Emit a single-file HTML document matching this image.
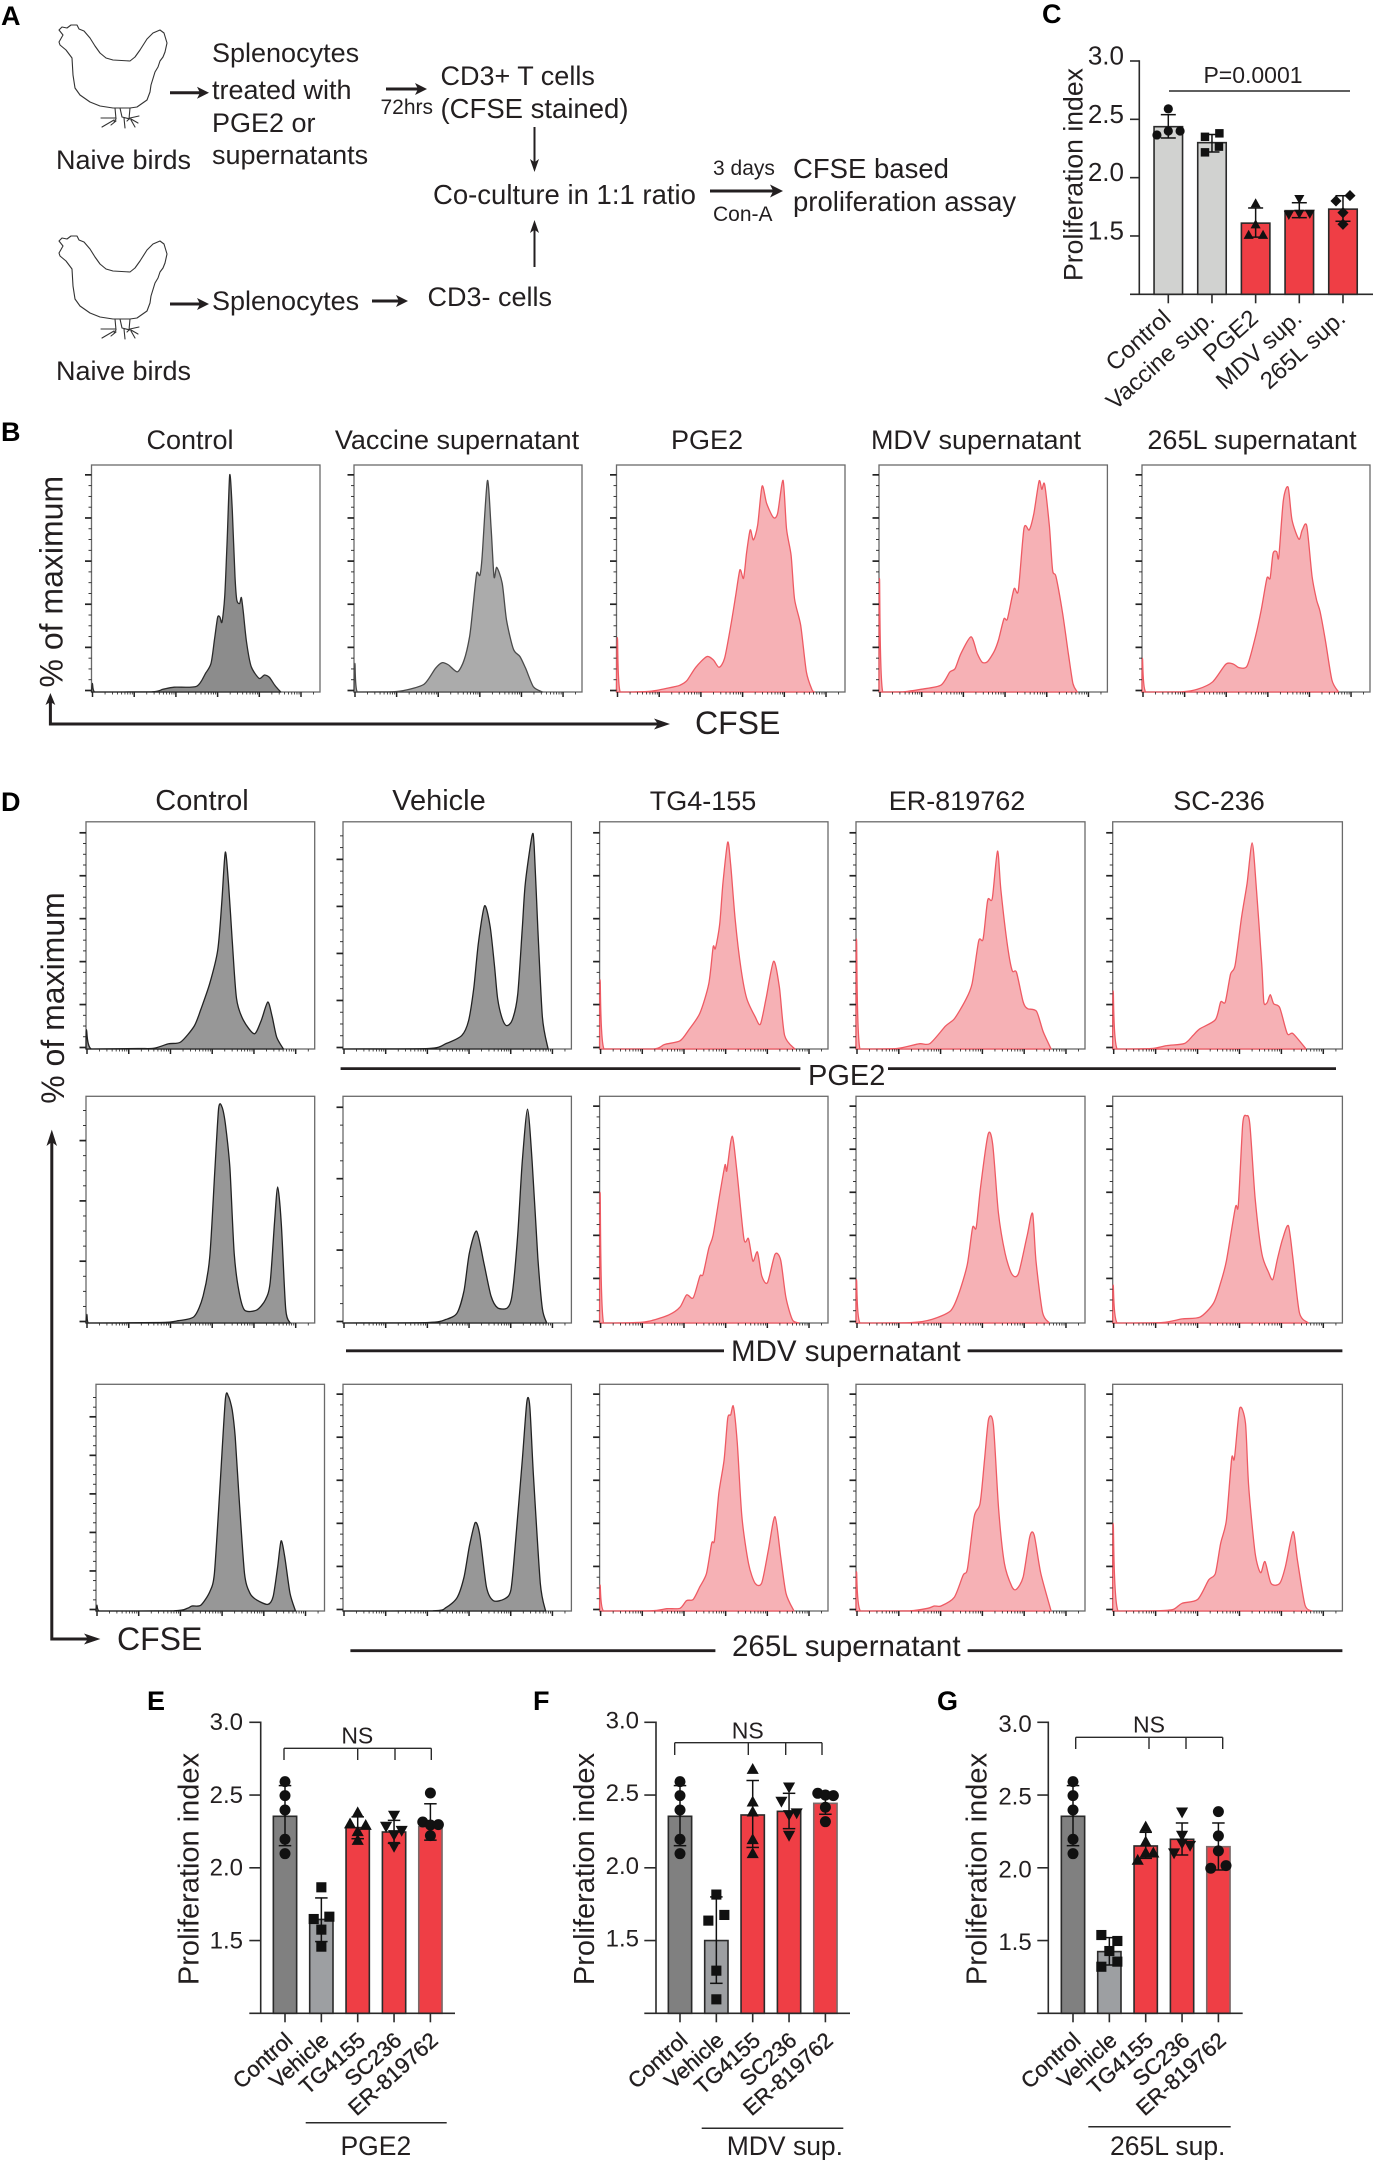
<!DOCTYPE html>
<html lang="en">
<head>
<meta charset="utf-8">
<title>Proliferation figure</title>
<style>
html,body{margin:0;padding:0;background:#fff}
svg{display:block}
text{font-family:"Liberation Sans",Arial,sans-serif;fill:#231f20}
.h{font-size:27px}
.h2{font-size:27.5px}
.s{font-size:21px}
.L{font-size:27px;font-weight:bold;fill:#000}
.t29{font-size:29px}
.t295{font-size:29.5px}
.t27{font-size:27px}
.t32{font-size:32px}
</style>
</head>
<body>
<svg id="figure" xmlns="http://www.w3.org/2000/svg" width="1373" height="2160" viewBox="0 0 1373 2160">
<rect width="1373" height="2160" fill="#fff"/>
<defs>
<g id="chicken" fill="none" stroke="#333" stroke-width="1.1" stroke-linejoin="round" stroke-linecap="round">
<path d="M59 42 L63 35 L59 30 L62 27 L67 28 L71 25 L77 25 L79 29 L84 31 L90 38 L95 46 L100 53 L106 58 L113 60 L130 61 L135 57 L140 50 L147 39 L153 33 L160 30 L164 33 L167 43 L165 52 L163 57 L160 61 L158 67 L155 72 L151 85 L150 92 L147 100 L137 107 L130 108 L113 108 L100 106 L90 102 L80 95 L75 88 L73 75 L72 58 L66 50 L60 45 Z"/>
<path d="M115 108 L116 119 L114 122 M130 108 L129 119 L127 121 M120 108 L122 117 L130 119 M116 118 L101 118 M114 120 L102 127 M116 121 L111 125 M124 118 L125 128 M130 118 L139 116 M131 120 L135 127 M131 119 L138 123"/>
</g>
</defs>

<g>
<text class="L" x="1" y="25">A</text>
<use href="#chicken"/>
<use href="#chicken" y="211"/>
<text class="h" x="212" y="62">Splenocytes</text>
<text class="h" x="212" y="99">treated with</text>
<text class="h" x="212" y="132">PGE2 or</text>
<text class="h" x="212" y="164">supernatants</text>
<text class="h" x="56" y="169">Naive birds</text>
<text class="h" x="440.5" y="85">CD3+ T cells</text>
<text class="s" x="380.5" y="114">72hrs</text>
<text class="h2" x="440.5" y="118">(CFSE stained)</text>
<text class="h2" x="433" y="204">Co-culture in 1:1 ratio</text>
<text class="s" x="713" y="175">3 days</text>
<text class="s" x="713" y="221">Con-A</text>
<text class="h2" x="793" y="178">CFSE based</text>
<text class="h2" x="793" y="211">proliferation assay</text>
<text class="h" x="212" y="310">Splenocytes</text>
<text class="h" x="427.5" y="306">CD3- cells</text>
<text class="h" x="56" y="380">Naive birds</text>
</g>

<g>
<text class="L" x="1" y="441">B</text>
<text class="t27" x="190" y="449" text-anchor="middle">Control</text>
<text class="t27" x="457" y="449" text-anchor="middle">Vaccine supernatant</text>
<text class="t27" x="707" y="449" text-anchor="middle">PGE2</text>
<text class="t27" x="976" y="449" text-anchor="middle">MDV supernatant</text>
<text class="t27" x="1252" y="449" text-anchor="middle">265L supernatant</text>
<text class="t32" transform="translate(62.5 581.7) rotate(-90)" text-anchor="middle">% of maximum</text>
<text class="t32" x="695" y="734">CFSE</text>
</g>

<g>
<text class="L" x="1" y="811">D</text>
<text class="t29" x="202" y="810" text-anchor="middle">Control</text>
<text class="t29" x="439" y="810" text-anchor="middle">Vehicle</text>
<text class="t27" x="703" y="810" text-anchor="middle">TG4-155</text>
<text class="t27" x="957" y="810" text-anchor="middle">ER-819762</text>
<text class="t27" x="1219" y="810" text-anchor="middle">SC-236</text>
<text class="t32" transform="translate(64 998) rotate(-90)" text-anchor="middle">% of maximum</text>
<text class="t32" x="117" y="1650">CFSE</text>
<text class="t29" x="808" y="1085">PGE2</text>
<text class="t295" x="731" y="1361">MDV supernatant</text>
<text class="t295" x="732" y="1656">265L supernatant</text>
<g stroke="#231f20" stroke-width="2.8">
<line x1="340.6" x2="800.4" y1="1068.6" y2="1068.6"/>
<line x1="888" x2="1336" y1="1068.6" y2="1068.6"/>
<line x1="346" x2="724" y1="1350.8" y2="1350.8"/>
<line x1="967.6" x2="1342.4" y1="1350.8" y2="1350.8"/>
<line x1="350.4" x2="715.4" y1="1650.7" y2="1650.7"/>
<line x1="967.6" x2="1342.4" y1="1650.7" y2="1650.7"/>
</g>
</g>

<g>
<text class="L" x="1042" y="23">C</text>
<text class="L" x="147" y="1710">E</text>
<text class="L" x="533" y="1710">F</text>
<text class="L" x="937" y="1710">G</text>
</g>
</svg>

<script>
// ---------- Histogram values: [CFSE axis %, cell count % of plot height] ----------
const histBControl = [[0,0],[0.4,3.8],[1.4,0],[26.4,0.1],[31.3,1.2],[36.2,2.1],[46,2.5],[49.9,8.2],[52.3,12.6],[53.8,22.9],[55.2,32.8],[56.2,33],[57.1,30.8],[58.3,42],[59.3,65],[60.5,95.6],[61.6,80],[62.8,50.8],[63.6,40.5],[64.8,39],[65.6,41.6],[66.5,34.5],[67.9,21.5],[69.9,11.2],[73.4,6],[75.7,7.5],[77.9,6.4],[80.2,3],[82.8,0]];
const histBVaccine = [[0,0],[0.4,12.6],[1.4,0],[17,0.1],[22.9,0.9],[30.8,3.5],[35.7,10.4],[38.6,12.9],[41.5,11.9],[45.4,8.9],[48.3,14.1],[50.7,24.4],[52.2,37.6],[53.8,52.3],[55.2,51.4],[56.2,59.5],[58.5,93.1],[60.1,72.9],[61.4,50.8],[62.6,54.9],[65,47.9],[66.9,31.7],[69.9,18.9],[72.8,15.6],[75.3,10.4],[78.7,2.3],[82.6,0]];
const histBPge2 = [[0,0],[0.4,24],[1.6,0],[15.4,0.4],[25.2,2.3],[27.8,3],[30.8,5],[34.7,10.9],[39.5,15.6],[42.4,14.1],[44.9,10.9],[47.3,14.9],[50.2,30.3],[52.1,42],[54,53.8],[55.6,50.1],[56.9,61.1],[58.5,71.4],[59.9,67],[61.8,73.6],[63.7,90.7],[65.7,83.1],[68.6,76.9],[70.5,78.7],[72.9,93.2],[74.4,72],[76.4,60.2],[77.9,41.1],[80.6,29.4],[83.1,8.8],[85.6,0.9],[86.6,0]];
const histBMdv = [[0,0],[0.2,50],[1.6,0],[10.7,0.1],[18.4,1.2],[27.1,3],[31,8.8],[33.3,10.3],[35.9,17],[40.3,24.3],[43,17],[45.2,13.1],[47.5,13.4],[50.4,17.8],[52.3,22.9],[54.7,32.2],[56.2,32.2],[59.1,45.4],[61,44.7],[63.5,72.1],[65.8,71.4],[67.8,78.7],[70.1,92.9],[71.3,89.3],[72.5,91.5],[74.6,73.1],[76,53.7],[77.5,50.8],[80.4,34.7],[82.9,17],[84.9,3.8],[86.8,0]];
const histB265l = [[0,0],[0.2,14.8],[1.6,0],[17.6,0.1],[24.3,1.2],[31,4.5],[36.8,12.3],[40.1,12.3],[42.6,10.7],[46.1,11.5],[49.4,22.9],[52.3,36.1],[54.8,50.1],[56.2,50.1],[57.5,61.1],[59.1,61.8],[60,59.5],[62,84.6],[64.1,90.2],[65.8,75.8],[68.8,67.3],[70.3,71.4],[72.3,73.1],[74.6,50.8],[76.6,40.5],[78.1,35.4],[80.4,22.9],[83.3,5.3],[86.2,0]];

const histPge2Control = [[0,0],[0.2,8.5],[2.3,0],[22.8,0.2],[29.7,0.3],[36.1,2.3],[41.4,3.1],[47.3,10.1],[50.2,17.4],[54.1,28.8],[57.6,43.5],[59.4,64.7],[60.9,86.6],[62.3,72.9],[63.9,48.5],[65.8,22.3],[68.8,12.7],[73.6,6.7],[76.6,12.5],[79.5,20.7],[81.4,14.2],[83.4,5.2],[86.3,0]];
const histPge2Vehicle = [[0,0],[37.4,0.2],[45.2,2.4],[52,6],[55,12.5],[57.3,27.2],[59.3,46.7],[62,63],[64.4,54],[66.3,37],[67.7,22.3],[69.7,13.4],[71.6,10.3],[74.1,12.7],[76.5,24],[78.5,53.2],[79.8,72.8],[82.8,94],[83.7,89.1],[85.3,53.2],[87.3,14],[89.8,0]];
const histPge2Tg = [[0,0],[0.2,30.5],[1.9,0],[23.6,0],[28.4,2],[35.2,3.6],[39.1,8.5],[43.9,15.8],[47.8,28.8],[49.7,44.8],[50.7,44.3],[52.6,55],[54,72.9],[56.1,91],[57.4,81],[59.4,56.5],[61.9,35.3],[64.4,22.3],[68.1,14.2],[70.4,10.9],[72.9,22.3],[76.2,38.6],[78.7,27.2],[81,6],[85.5,0]];
const histPge2Er = [[0,0],[0.2,48.4],[1.7,0],[17.8,0.2],[27.5,2.3],[32.3,2.4],[39.1,10.1],[43,13.4],[47.8,21.5],[50.7,28.8],[53.6,47.6],[55.5,48.4],[57.5,65.5],[59.5,66.3],[61.8,87.1],[63.3,69.5],[66.2,45.1],[68.2,34.5],[70.1,33.7],[73,20.7],[74.9,17.8],[78.8,16.6],[81.7,7.7],[85.2,0]];
const histPge2Sc = [[0,0],[0.2,25.6],[1.9,0],[16.8,0.2],[23.5,1.5],[31.2,2.4],[35,6],[37.9,8.9],[44.7,12.9],[47,20.7],[49,20.7],[51.3,32.9],[53.3,36.9],[56.1,58.1],[58.5,72.9],[60.7,90.7],[62.4,72.9],[64.9,36.9],[65.8,20.7],[67.2,20.4],[68.6,23.9],[70.1,19.9],[72.7,18.2],[76,6.8],[78.5,6.8],[84.2,0]];

const histMdvControl = [[0,0],[0.4,3.8],[1,0],[32.6,0.2],[40.4,1],[47.3,2.9],[51.2,11.9],[54.1,29],[56.4,68.5],[58,94.6],[59.4,95.5],[60.9,88.1],[62.9,68.5],[64.8,30.7],[66.8,14.4],[69.3,5.7],[74.6,5.7],[78.5,10.3],[80.5,17.6],[82.4,43.7],[83.8,60],[85.4,43.7],[87.3,6.2],[89.3,0]];
const histMdvVehicle = [[0,0],[37.4,0.2],[45.2,1.6],[50,4.5],[53,14.4],[55.3,30.7],[58.5,40.5],[61.8,25.8],[64.8,11.9],[67.7,6.7],[72,6.7],[74.1,12.7],[76.5,38.8],[78.5,71.4],[80.8,94.3],[82.8,71.4],[85.3,29],[87.3,6.2],[89.2,0]];
const histMdvTg = [[0,0],[0.2,57.6],[1.7,0],[15.9,0.2],[22.6,1],[30.4,3.6],[35.2,7],[38.1,12.4],[41,11.1],[43.9,20.7],[45.3,21.5],[47.8,33],[49.7,38.7],[52.6,56.6],[54.9,69.7],[55.7,67.2],[58,82.4],[60,68.1],[63.2,37.2],[65.2,37.2],[67.1,27.3],[69.1,31.3],[71,20.7],[73.5,17.8],[76.8,30.3],[79.3,27.7],[81.6,11.1],[84.5,1.3],[87.4,0]];
const histMdvEr = [[0,0],[0.2,19.2],[1.7,0],[24.5,0.2],[33.2,1.6],[41.3,5.4],[44.8,12.7],[48.6,25.8],[50.9,42.1],[52.5,42.1],[54.4,60],[57.7,83.2],[59.7,78.8],[62.2,48.6],[65.1,30.7],[68,21.7],[70.9,21.7],[74.8,38.8],[77.1,48.3],[78.6,27.3],[81.5,4.6],[84.5,0]];
const histMdvSc = [[0,0],[0.2,16.8],[1.9,0],[21.6,0.2],[30.3,1.8],[38,2.6],[43.8,8.6],[46.7,16.8],[49.5,27.4],[53.4,51],[54.7,51.9],[56.6,87.8],[58.2,91.4],[59.7,87.8],[62,55.1],[64.9,30.7],[67.8,22.5],[69.7,19.2],[71.7,28.2],[74,37.2],[76.5,42.9],[78.4,29],[81.3,4.6],[85.2,0]];

const hist265Control = [[0,0],[0.4,2.6],[1.4,0],[34.2,0.1],[40,1.2],[42,2.2],[45.9,2.6],[49.8,8.5],[51.8,16.6],[54.1,51.9],[56.6,93.1],[58,94.6],[59.6,88.7],[60.9,76.9],[62.5,51.9],[65,16.6],[67.4,7.8],[70.3,4.9],[75.2,2.9],[77.5,6.3],[79.5,19.6],[81,30.9],[82.6,24],[84.9,7.8],[87.3,0]];
const hist265Vehicle = [[0,0],[39.3,0.1],[45.2,1.6],[50,6],[53,15.1],[55.3,28.4],[57.9,39],[59.9,33.5],[62.8,10.7],[65.8,4.6],[70.6,5.3],[73.5,9.3],[75.5,29.9],[78.5,66.6],[80.5,92.4],[81.8,90.2],[83.4,59.3],[86.4,12.2],[88.7,0]];
const hist265Tg = [[0,0],[0.2,11.5],[1.7,0],[22.6,0.1],[29.4,1],[35.2,1.2],[38.1,4.6],[41,5.1],[43.9,10.7],[46.8,16.6],[49.1,29.9],[50.3,31.3],[52.2,51.9],[54.5,66.6],[56.1,85],[57.4,86.5],[58.6,90.2],[60.3,74],[62.3,41.6],[65.2,21],[68.1,12.2],[71,12.5],[73.9,26.9],[76.8,41.6],[79.3,23.9],[81.6,7.8],[85.1,0]];
const hist265Er = [[0,0],[0.2,17.4],[1.9,0],[23.6,0.1],[31.3,1.2],[34.2,2.2],[37.1,2.2],[42.9,6],[46.8,15.9],[48.7,18.8],[51.6,41.6],[54.2,47.5],[56.1,66.6],[57.9,84.6],[60,82.1],[62.3,44.6],[64.8,21],[68.1,10.7],[70.1,9.6],[73,15.1],[75.9,32.8],[77.8,33.5],[80.7,16.6],[85.2,0]];
const hist265Sc = [[0,0],[0.2,38.7],[2.3,0],[19.6,0.1],[26.4,0.7],[30.2,3.4],[37,5.1],[41.8,13.7],[44.7,16.6],[47,29.9],[49.5,40.1],[51.8,67.3],[53,67.3],[55.3,89.4],[57.8,82.8],[59.2,54.9],[62,25.6],[64.4,16.9],[66.3,21.8],[68.9,12.2],[72.7,12.2],[75.2,19.6],[78.5,35],[80.4,22.5],[83.7,2.6],[86.7,0]];

// ---------- Bar chart values ----------
const barTickValues = [1.5, 2.0, 2.5, 3.0];
const barTickLabels = ['1.5', '2.0', '2.5', '3.0'];

const cCategories = ['Control', 'Vaccine sup.', 'PGE2', 'MDV sup.', '265L sup.'];
const cMeans = [2.437, 2.30, 1.61, 1.717, 1.73];
const cUpper = [2.54, 2.37, 1.74, 1.785, 1.845];
const cLower = [2.34, 2.22, 1.49, 1.657, 1.626];
const cPoints = [[2.59, 2.366, 2.40, 2.40], [2.35, 2.38, 2.266, 2.217], [1.78, 1.60, 1.51, 1.51], [1.817, 1.69, 1.68, 1.69], [1.846, 1.80, 1.70, 1.60]];

const treatmentCategories = ['Control', 'Vehicle', 'TG4155', 'SC236', 'ER-819762'];
const controlPoints = [2.592, 2.496, 2.397, 2.196, 2.097];

const eMeans = [2.354, 1.645, 2.276, 2.246, 2.283];
const eUpper = [2.565, 1.793, 2.35, 2.326, 2.44];
const eLower = [2.152, 1.493, 2.20, 2.168, 2.19];
const ePoints = [controlPoints, [1.866, 1.648, 1.664, 1.575, 1.458], [2.381, 2.304, 2.294, 2.251, 2.191], [2.359, 2.283, 2.255, 2.226, 2.145], [2.514, 2.315, 2.294, 2.297, 2.221]];

const fMeans = [2.354, 1.50, 2.363, 2.388, 2.443];
const fUpper = [2.565, 1.80, 2.60, 2.512, 2.52];
const fLower = [2.152, 1.206, 2.14, 2.269, 2.368];
const fPoints = [controlPoints, [1.816, 1.637, 1.676, 1.293, 1.096], [2.679, 2.455, 2.386, 2.196, 2.10], [2.553, 2.455, 2.375, 2.363, 2.221], [2.512, 2.50, 2.496, 2.416, 2.317]];

const gMeans = [2.354, 1.424, 2.15, 2.196, 2.145];
const gUpper = [2.565, 1.52, 2.244, 2.308, 2.308];
const gLower = [2.152, 1.332, 2.065, 2.088, 1.985];
const gPoints = [controlPoints, [1.538, 1.497, 1.428, 1.355, 1.32], [2.283, 2.18, 2.104, 2.104, 2.054], [2.381, 2.221, 2.168, 2.152, 2.10], [2.386, 2.219, 2.116, 1.997, 2.015]];

// Horizontal spread of points within a category, in band fractions (layout, not data)
const cSpread = [[0, -0.26, 0, 0.27], [-0.16, 0.17, 0.16, -0.16], [0, 0, -0.16, 0.17], [0, 0, -0.24, 0.24], [0.16, -0.16, 0, 0]];
const eSpread = [[0,0,0,0,0], [0,-0.21,0.22,0,0], [0,-0.21,0.22,0,0], [0,-0.22,0.21,0,0], [0,-0.21,0,0.22,0]];
const fSpread = [[0,0,0,0,0], [0,-0.22,0.22,0,0], [0,0,0,0,0], [0,-0.21,0.21,0,0], [-0.21,0,0.22,0,0]];
const gSpread = [[0,0,0,0,0], [-0.22,0.22,0,0.22,-0.22], [0,0,0,0.21,-0.22], [0,0,0,0.22,-0.22], [0,0,0,-0.21,0.21]];

// ---------- Drawing ----------
const NS = 'http://www.w3.org/2000/svg';
const figure = document.getElementById('figure');

function make(tag, attrs, parent) {
  const el = document.createElementNS(NS, tag);
  for (const k in attrs) el.setAttribute(k, attrs[k]);
  (parent || figure).appendChild(el);
  return el;
}

function drawArrow(x1, y1, x2, y2, width, headLen, headHalf, name) {
  const g = make('g', {});
  
  
  const a = Math.atan2(y2 - y1, x2 - x1);
  const cx = Math.cos(a), cy = Math.sin(a);
  make('line', { x1: x1, y1: y1, x2: x2 - cx * headLen * 0.6, y2: y2 - cy * headLen * 0.6, stroke: '#231f20', 'stroke-width': width }, g);
  const bx = x2 - cx * headLen, by = y2 - cy * headLen;
  const nx = x2 - cx * headLen * 0.75, ny = y2 - cy * headLen * 0.75;
  const pts = [[x2, y2], [bx - cy * headHalf, by + cx * headHalf], [nx, ny], [bx + cy * headHalf, by - cx * headHalf]];
  make('polygon', { points: pts.map(p => p.join(',')).join(' '), fill: '#231f20' }, g);
}

drawArrow(170, 92.7, 209, 92.7, 3, 12, 6, 'arrow-birds-to-splenocytes');
drawArrow(386, 89, 427, 89, 3, 12, 6, 'arrow-72hrs');
drawArrow(534.5, 127, 534.5, 172, 2, 13, 4.5, 'arrow-tcells-to-coculture');
drawArrow(710, 191, 783, 191, 3, 13, 6.5, 'arrow-3-days');
drawArrow(534.5, 267, 534.5, 220, 2, 13, 4.5, 'arrow-cd3-to-coculture');
drawArrow(170, 304, 209, 304, 3, 12, 6, 'arrow-birds-to-splenocytes-bottom');
drawArrow(372, 301, 408, 301, 3, 12, 6, 'arrow-splenocytes-to-cd3');

// Axis arrows of flow panels
const axisArrowsB = make('g', {});


make('path', { d: 'M50.4 700 V724 H662', fill: 'none', stroke: '#231f20', 'stroke-width': 3 }, axisArrowsB);
make('polygon', { points: '50.4,693 45.5,705 50.4,702 55.3,705', fill: '#231f20' }, axisArrowsB);
make('polygon', { points: '670,724 654,718.5 658,724 654,729.5', fill: '#231f20' }, axisArrowsB);
const axisArrowsD = make('g', {});


make('path', { d: 'M51.8 1137 V1639 H94', fill: 'none', stroke: '#231f20', 'stroke-width': 3 }, axisArrowsD);
make('polygon', { points: '51.8,1129.6 46.5,1146 51.8,1142 57,1146', fill: '#231f20' }, axisArrowsD);
make('polygon', { points: '100.4,1639 84,1633.5 88,1639 84,1644.5', fill: '#231f20' }, axisArrowsD);

const darkGrey = { fill: '#8c8c8c', stroke: '#2b2b2b' };
const midGrey = { fill: '#ababab', stroke: '#4a4a4a' };
const flowGrey = { fill: '#979797', stroke: '#222' };
const pink = { fill: '#f6b1b5', stroke: '#ee5a63' };

const flowX = [[86, 314.7], [343, 571.4], [599.6, 828], [856, 1085], [1112.7, 1342.4]];
const flowPanels = [
  { id: 'b-control', data: histBControl, x: [91.5, 320], y: [465, 692], step: 19, look: darkGrey },
  { id: 'b-vaccine', data: histBVaccine, x: [354, 582], y: [465, 692], step: 19, look: midGrey },
  { id: 'b-pge2', data: histBPge2, x: [616.5, 845], y: [465, 692], step: 19, look: pink },
  { id: 'b-mdv', data: histBMdv, x: [879, 1107.4], y: [465, 692], step: 19, look: pink },
  { id: 'b-265l', data: histB265l, x: [1142, 1370], y: [465, 692], step: 19, look: pink },
  { id: 'pge2-control', data: histPge2Control, x: flowX[0], y: [821.8, 1049], step: 18.9, look: flowGrey },
  { id: 'pge2-vehicle', data: histPge2Vehicle, x: flowX[1], y: [821.8, 1049], step: 20.7, look: flowGrey },
  { id: 'pge2-tg4-155', data: histPge2Tg, x: flowX[2], y: [821.8, 1049], step: 18.9, look: pink },
  { id: 'pge2-er-819762', data: histPge2Er, x: flowX[3], y: [821.8, 1049], step: 18.9, look: pink },
  { id: 'pge2-sc-236', data: histPge2Sc, x: flowX[4], y: [821.8, 1049], step: 18.9, look: pink },
  { id: 'mdv-control', data: histMdvControl, x: flowX[0], y: [1096.3, 1323], step: 26.6, look: flowGrey },
  { id: 'mdv-vehicle', data: histMdvVehicle, x: flowX[1], y: [1096.3, 1323], step: 31.5, look: flowGrey },
  { id: 'mdv-tg4-155', data: histMdvTg, x: flowX[2], y: [1096.3, 1323], step: 19, look: pink },
  { id: 'mdv-er-819762', data: histMdvEr, x: flowX[3], y: [1096.3, 1323], step: 19, look: pink },
  { id: 'mdv-sc-236', data: histMdvSc, x: flowX[4], y: [1096.3, 1323], step: 19, look: pink },
  { id: '265l-control', data: hist265Control, x: [96, 324.5], y: [1384.3, 1611], step: 17, look: flowGrey },
  { id: '265l-vehicle', data: hist265Vehicle, x: flowX[1], y: [1384.3, 1611], step: 19, look: flowGrey },
  { id: '265l-tg4-155', data: hist265Tg, x: flowX[2], y: [1384.3, 1611], step: 19, look: pink },
  { id: '265l-er-819762', data: hist265Er, x: flowX[3], y: [1384.3, 1611], step: 19, look: pink },
  { id: '265l-sc-236', data: hist265Sc, x: flowX[4], y: [1384.3, 1611], step: 19, look: pink }
];

// Smooth closed outline through the histogram points, never dipping under the baseline
function smoothPath(pts, bottom) {
  const k = 0.13;
  let d = 'M' + pts[0][0].toFixed(1) + ' ' + pts[0][1].toFixed(1);
  for (let i = 0; i < pts.length - 1; i++) {
    const p0 = pts[Math.max(i - 1, 0)], p1 = pts[i], p2 = pts[i + 1], p3 = pts[Math.min(i + 2, pts.length - 1)];
    const c1x = Math.min(p2[0], p1[0] + (p2[0] - p0[0]) * k);
    const c1y = Math.min(bottom, p1[1] + (p2[1] - p0[1]) * k);
    const c2x = Math.max(p1[0], p2[0] - (p3[0] - p1[0]) * k);
    const c2y = Math.min(bottom, p2[1] - (p3[1] - p1[1]) * k);
    d += ' C' + c1x.toFixed(1) + ' ' + c1y.toFixed(1) + ' ' + c2x.toFixed(1) + ' ' + c2y.toFixed(1) + ' ' + p2[0].toFixed(1) + ' ' + p2[1].toFixed(1);
  }
  return d + ' Z';
}

function drawFlowPanel(p) {
  const g = make('g', {});
  
  
  const x0 = p.x[0], x1 = p.x[1], top = p.y[0], bottom = p.y[1];
  const xScale = v => x0 + (v / 100) * (x1 - x0);
  const yScale = v => bottom - (v / 100) * (bottom - top);

  const frame = make('rect', { x: x0, y: top, width: x1 - x0, height: bottom - top, fill: '#fff', stroke: '#6a6a6a', 'stroke-width': 1.3 }, g);
  
  

  const pts = p.data.map(d => [xScale(d[0]), yScale(d[1])]);
  const area = make('path', { d: smoothPath(pts, bottom), fill: p.look.fill, stroke: p.look.stroke, 'stroke-width': 1.3, 'stroke-linejoin': 'round' }, g);
  
  

  // y ticks: each major step split in four
  const yTicks = make('g', { stroke: '#222' }, g);
  
  
  const base = yScale(0) - 1.5;
  const stepPx = (p.step / 100) * (bottom - top);
  for (let i = 0; base - i * stepPx / 4 >= top + 8; i++) {
    const y = base - i * stepPx / 4;
    const major = i % 4 === 0;
    make('line', { x1: x0 - (major ? 6.5 : 3), x2: x0, y1: y, y2: y, 'stroke-width': major ? 1.7 : 0.9 }, yTicks);
  }

  // x ticks: five log decades with log minors
  const xTicks = make('g', { stroke: '#222' }, g);
  
  
  const decade = 0.1825 * (x1 - x0);
  for (let d = 0; d < 6; d++) {
    const start = x0 + 1 + d * decade;
    make('line', { x1: start, x2: start, y1: bottom, y2: bottom + 5, 'stroke-width': 1.5 }, xTicks);
    for (let n = 2; n < 10; n++) {
      const x = start + Math.log10(n) * decade;
      if (x < x1) make('line', { x1: x, x2: x, y1: bottom, y2: bottom + 2.5, 'stroke-width': 0.8 }, xTicks);
    }
  }
}
flowPanels.forEach(drawFlowPanel);

function drawMarker(parent, shape, cx, cy, size) {
  let el;
  if (shape === 'circle') {
    el = make('circle', { cx: cx, cy: cy, r: size, fill: '#111' }, parent);
  } else if (shape === 'square') {
    el = make('rect', { x: cx - size * 0.92, y: cy - size * 0.92, width: size * 1.84, height: size * 1.84, fill: '#111' }, parent);
  } else {
    const s = size * 1.1;
    let pts;
    if (shape === 'up') pts = [[cx, cy - s], [cx + s, cy + s * 0.8], [cx - s, cy + s * 0.8]];
    if (shape === 'down') pts = [[cx, cy + s], [cx + s, cy - s * 0.8], [cx - s, cy - s * 0.8]];
    if (shape === 'diamond') pts = [[cx, cy - s * 1.1], [cx + s * 1.1, cy], [cx, cy + s * 1.1], [cx - s * 1.1, cy]];
    el = make('polygon', { points: pts.map(q => q.join(',')).join(' '), fill: '#111' }, parent);
  }
  
  
}

const ink = '#2a2a2a';

function drawBarChart(c) {
  const g = make('g', {});
  
  
  const unit = (c.bottom - c.top) / (3 - 1);
  const yScale = v => c.bottom - (v - 1) * unit;
  const xScale = i => c.first + i * c.band;

  c.means.forEach((m, i) => {
    const bar = make('rect', { x: xScale(i) - c.barW / 2, y: yScale(m), width: c.barW, height: c.bottom - yScale(m), fill: c.fills[i], stroke: c.strokes[i], 'stroke-width': 1.6 }, g);
    
    
  });

  const axes = make('g', { stroke: ink, 'stroke-width': 1.6, fill: 'none' }, g);
  
  
  make('line', { x1: c.axisX, x2: c.axisX, y1: c.top - 0.8, y2: c.bottom }, axes);
  make('line', { x1: c.left, x2: c.right, y1: c.bottom, y2: c.bottom }, axes);

  barTickValues.forEach((v, i) => {
    make('line', { x1: c.left, x2: c.axisX, y1: yScale(v), y2: yScale(v) }, axes);
    const t = make('text', { x: c.tickRight, y: yScale(v) + c.tickDy, 'text-anchor': 'end', 'font-size': c.tickSize }, g);
    t.textContent = barTickLabels[i];
    
    
  });

  const title = make('text', { transform: 'translate(' + c.titleX + ' ' + c.titleMid + ') rotate(-90)', 'text-anchor': 'middle', 'font-size': c.titleSize }, g);
  title.textContent = 'Proliferation index';
  
  

  c.categories.forEach((label, i) => {
    make('line', { x1: xScale(i), x2: xScale(i), y1: c.bottom, y2: c.bottom + 9 }, axes);
    const ax = xScale(i) + c.labelDx, ay = c.bottom + c.labelDy;
    const t = make('text', { transform: 'translate(' + ax + ' ' + ay + ') rotate(-42)', 'text-anchor': 'end', 'font-size': c.labelSize, stroke: '#231f20', 'stroke-width': c.labelHeavy }, g);
    t.textContent = label;
    
    
  });

  c.means.forEach((m, i) => {
    const err = make('g', { stroke: '#111', 'stroke-width': 1.5 }, g);
    
    
    const x = xScale(i), hw = c.capW / 2;
    make('line', { x1: x, x2: x, y1: yScale(c.upper[i]), y2: yScale(c.lower[i]) }, err);
    make('line', { x1: x - hw, x2: x + hw, y1: yScale(c.upper[i]), y2: yScale(c.upper[i]) }, err);
    make('line', { x1: x - hw, x2: x + hw, y1: yScale(c.lower[i]), y2: yScale(c.lower[i]) }, err);
    c.points[i].forEach((v, j) => drawMarker(g, c.shapes[i], x + c.spread[i][j] * c.band, yScale(v), c.markerSize));
  });
}

function drawBracket(id, top, drop, xs, textX, textY) {
  const g = make('g', { stroke: ink, 'stroke-width': 1.4, fill: 'none' });
  
  
  make('line', { x1: xs[0], x2: xs[xs.length - 1], y1: top, y2: top }, g);
  xs.forEach(x => make('line', { x1: x, x2: x, y1: top, y2: drop }, g));
  const t = make('text', { x: textX, y: textY, 'text-anchor': 'middle', 'font-size': 23 });
  t.textContent = 'NS';
  
  
}

function drawGroup(id, x1, x2, y, label, textX, textY) {
  const l = make('line', { x1: x1, x2: x2, y1: y, y2: y, stroke: ink, 'stroke-width': 1.5 });
  
  
  const t = make('text', { x: textX, y: textY, 'font-size': 26.5 });
  t.textContent = label;
  
  
}

const treatmentShapes = ['circle', 'square', 'up', 'down', 'circle'];
const treatmentFills = ['#808080', '#9d9fa2', '#ef3e45', '#ef3e45', '#ef3e45'];
const treatmentStrokes = [ink, ink, ink, ink, '#7a6a6a'];
const sharedLayout = { top: 1722.3, bottom: 2013.3, band: 36.35, barW: 23.3, capW: 12.5, markerSize: 5.5, tickSize: 24, titleSize: 29, titleMid: 1869, labelSize: 22, labelHeavy: 0.35, labelDx: 9, labelDy: 29, categories: treatmentCategories, shapes: treatmentShapes, fills: treatmentFills, strokes: treatmentStrokes };

drawBarChart({ id: 'c', axisX: 1139.3, top: 61, bottom: 294.3, left: 1130, right: 1373, first: 1168.3, band: 43.67, barW: 28.5, capW: 15, markerSize: 4.6, tickSize: 26, tickRight: 1124, tickDy: 3.5, titleX: 1082.7, titleMid: 174.5, titleSize: 26.6, labelSize: 24, labelHeavy: 0, labelDx: 4, labelDy: 26,
  categories: cCategories, means: cMeans, upper: cUpper, lower: cLower, points: cPoints, spread: cSpread,
  shapes: ['circle', 'square', 'up', 'down', 'diamond'], fills: ['#d1d2d0', '#d1d2d0', '#ef3e45', '#ef3e45', '#ef3e45'], strokes: [ink, ink, ink, ink, ink] });
const pTitle = make('text', { x: 1253, y: 83, 'text-anchor': 'middle', 'font-size': 23 });
pTitle.textContent = 'P=0.0001';


const pLine = make('line', { x1: 1169, x2: 1350, y1: 91, y2: 91, stroke: ink, 'stroke-width': 1.4 });



drawBarChart(Object.assign({}, sharedLayout, { id: 'e', axisX: 260.7, left: 249.3, right: 455, first: 285, tickRight: 243, tickDy: 7.7, titleX: 198.3, means: eMeans, upper: eUpper, lower: eLower, points: ePoints, spread: eSpread }));
drawBracket('e', 1748.3, 1760, [284, 357.7, 395, 431.3], 357.3, 1743.3);
drawGroup('e', 305.7, 446.7, 2122.7, 'PGE2', 340.5, 2155);

drawBarChart(Object.assign({}, sharedLayout, { id: 'f', axisX: 656, left: 644.3, right: 850, first: 680, tickRight: 639, tickDy: 6, titleX: 594, means: fMeans, upper: fUpper, lower: fLower, points: fPoints, spread: fSpread }));
drawBracket('f', 1742.7, 1755, [674.7, 748.3, 785.7, 822], 747.7, 1738.3);
drawGroup('f', 701.7, 843.3, 2128.3, 'MDV sup.', 726.7, 2155);

drawBarChart(Object.assign({}, sharedLayout, { id: 'g', axisX: 1048.3, left: 1037.3, right: 1242.7, first: 1073, tickRight: 1031.7, tickDy: 9.5, titleX: 986.7, means: gMeans, upper: gUpper, lower: gLower, points: gPoints, spread: gSpread }));
drawBracket('g', 1737.3, 1749, [1075.7, 1149, 1186, 1222.7], 1149, 1732.7);
drawGroup('g', 1088.3, 1230.7, 2126.7, '265L sup.', 1110, 2155);
</script>
</body>
</html>
